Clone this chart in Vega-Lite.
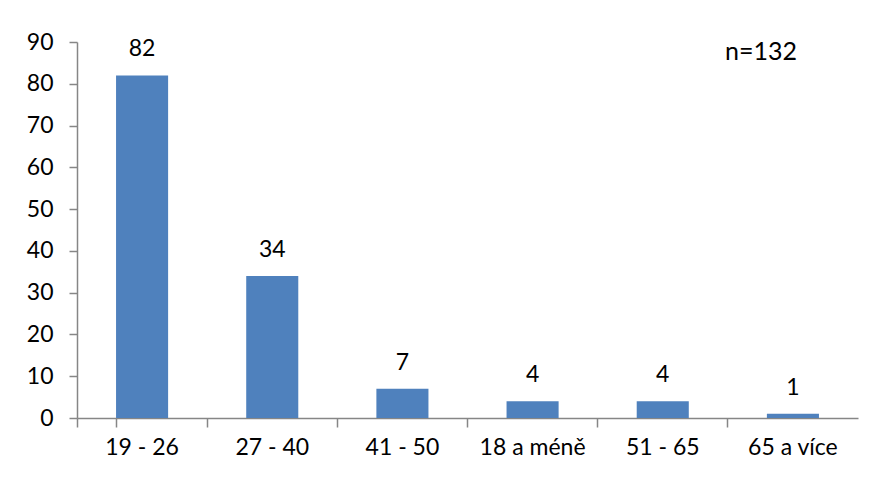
{
  "$schema": "https://vega.github.io/schema/vega-lite/v6.json",
  "autosize": "none",
  "width": 781,
  "height": 376,
  "padding": {"left": 77, "top": 42, "right": 16, "bottom": 61},
  "background": "white",
  "config": {"view": {"stroke": null}, "font": "Lato"},
  "title": {"text": "n=132", "anchor": "end", "orient": "top", "frame": "group", "offset": 0, "dx": -61, "dy": 54, "baseline": "alphabetic", "fontSize": 25, "fontWeight": "normal", "font": "Lato", "color": "black"},
  "data": {"values": [
    {"vek": "19 - 26", "pocet": 82},
    {"vek": "27 - 40", "pocet": 34},
    {"vek": "41 - 50", "pocet": 7},
    {"vek": "18 a méně", "pocet": 4},
    {"vek": "51 - 65", "pocet": 4},
    {"vek": "65 a více", "pocet": 1}
  ]},
  "encoding": {
    "x": {"field": "vek", "type": "nominal", "sort": null,
      "scale": {"paddingInner": 0.6, "paddingOuter": 0.3},
      "axis": {"title": null, "labelAngle": 0, "labelFontSize": 23, "labelFont": "Lato", "labelColor": "black", "labelPadding": 9, "ticks": true, "bandPosition": -0.75, "tickExtra": true, "tickSize": 9, "tickColor": "#868686", "domainColor": "#868686", "domainWidth": 1.5, "tickWidth": 1.5}},
    "y": {"field": "pocet", "type": "quantitative",
      "scale": {"domain": [0, 90], "nice": false},
      "axis": {"title": null, "values": [0,10,20,30,40,50,60,70,80,90], "grid": false, "labelFontSize": 23, "labelFont": "Lato", "labelColor": "black", "labelPadding": 16, "ticks": true, "tickSize": 8, "tickColor": "#868686", "domainColor": "#868686", "domainWidth": 1.5, "tickWidth": 1.5}}
  },
  "layer": [
    {"mark": {"type": "bar", "color": "#4F81BD"}},
    {"mark": {"type": "text", "baseline": "alphabetic", "dy": -19, "fontSize": 23, "font": "Lato", "color": "black"},
     "encoding": {"text": {"field": "pocet", "type": "quantitative"}}}
  ]
}
